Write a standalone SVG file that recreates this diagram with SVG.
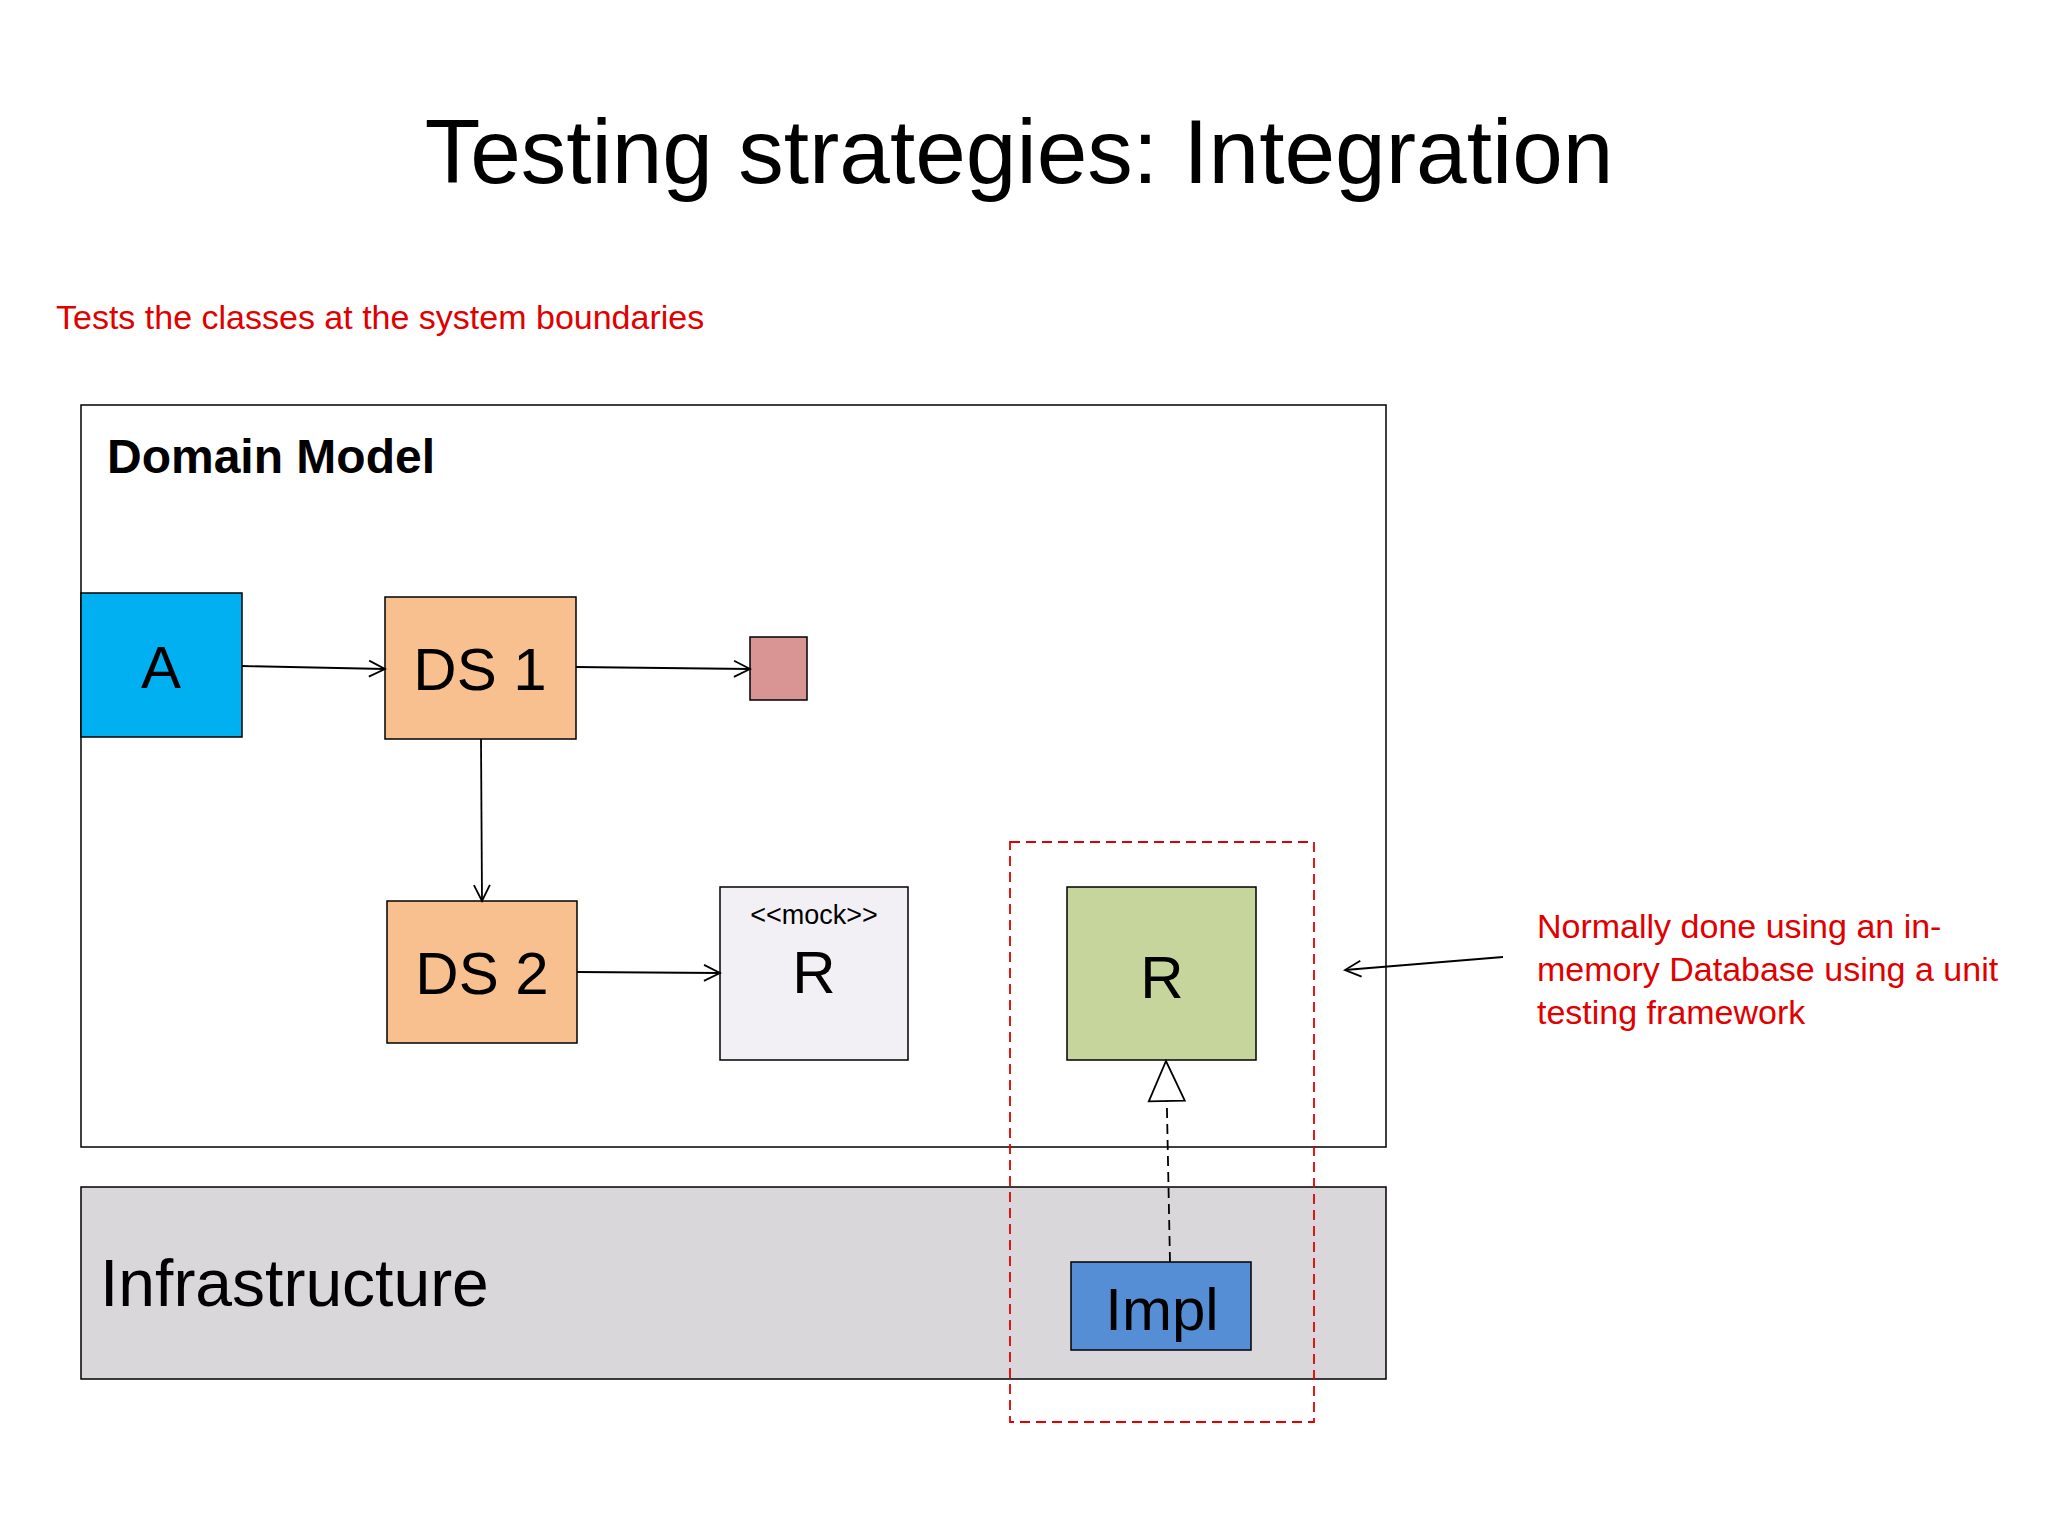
<svg xmlns="http://www.w3.org/2000/svg" width="2048" height="1536" viewBox="0 0 2048 1536">
<style>
text{font-family:"Liberation Sans",Arial,sans-serif}
.box{stroke:#000;stroke-width:1.5}
.lbl{font-size:60px;text-anchor:middle}
.red{fill:#E00000;font-size:34px}
.c{stroke:#000;stroke-width:1.8;fill:none}
</style>
<defs>
<marker id="open" markerWidth="20" markerHeight="20" refX="18" refY="10" orient="auto" markerUnits="userSpaceOnUse"><path d="M2,2 L18,10 L2,18" fill="none" stroke="#000" stroke-width="1.8"/></marker>
<marker id="tri" markerWidth="44" markerHeight="40" refX="42" refY="20" orient="auto" markerUnits="userSpaceOnUse"><path d="M2,2 L42,20 L2,38 Z" fill="#fff" stroke="#000" stroke-width="1.8"/></marker>
</defs>
<rect width="2048" height="1536" fill="#fff"/>
<text x="1019" y="183" font-size="91" text-anchor="middle">Testing strategies: Integration</text>
<text x="56" y="329" class="red">Tests the classes at the system boundaries</text>
<g id="domain"><rect x="81" y="405" width="1305" height="742" fill="#fff" class="box"/><text x="107" y="473" font-size="48" font-weight="bold">Domain Model</text></g>
<g id="infra"><rect x="81" y="1187" width="1305" height="192" fill="#D9D7DA" class="box"/><text x="100" y="1306" font-size="66">Infrastructure</text></g>
<g id="A"><rect x="81" y="593" width="161" height="144" fill="#00B0F0" class="box"/><text x="161" y="688" class="lbl">A</text></g>
<g id="DS1"><rect x="385" y="597" width="191" height="142" fill="#F9C08F" class="box"/><text x="480" y="690" class="lbl">DS 1</text></g>
<g id="small"><rect x="750" y="637" width="57" height="63" fill="#D89594" class="box"/></g>
<g id="DS2"><rect x="387" y="901" width="190" height="142" fill="#F9C08F" class="box"/><text x="482" y="994" class="lbl">DS 2</text></g>
<g id="mockR"><rect x="720" y="887" width="188" height="173" fill="#F2F0F4" class="box"/><text x="814" y="924" font-size="27" text-anchor="middle">&lt;&lt;mock&gt;&gt;</text><text x="814" y="993" class="lbl">R</text></g>
<g id="R"><rect x="1067" y="887" width="189" height="173" fill="#C6D59C" class="box"/><text x="1162" y="998" class="lbl">R</text></g>
<g id="Impl"><rect x="1071" y="1262" width="180" height="88" fill="#558ED5" class="box"/><text x="1162" y="1330" class="lbl">Impl</text></g>
<g id="boundary"><rect x="1010" y="842" width="304" height="580" fill="none" stroke="#E00000" stroke-width="1.8" stroke-dasharray="10,6"/></g>
<g id="note"><text class="red"><tspan x="1537" y="938">Normally done using an in-</tspan><tspan x="1537" y="981">memory Database using a unit</tspan><tspan x="1537" y="1024">testing framework</tspan></text></g>
<g id="connectors">
<line x1="242" y1="666" x2="385" y2="669" class="c" marker-end="url(#open)"/>
<line x1="576" y1="667" x2="750" y2="669" class="c" marker-end="url(#open)"/>
<line x1="481" y1="739" x2="482" y2="901" class="c" marker-end="url(#open)"/>
<line x1="577" y1="972" x2="720" y2="973" class="c" marker-end="url(#open)"/>
<line x1="1503" y1="957" x2="1345" y2="970" class="c" marker-end="url(#open)"/>
<line x1="1170" y1="1262" x2="1166" y2="1061" class="c" stroke-dasharray="10,6" marker-end="url(#tri)"/>
</g>
</svg>
